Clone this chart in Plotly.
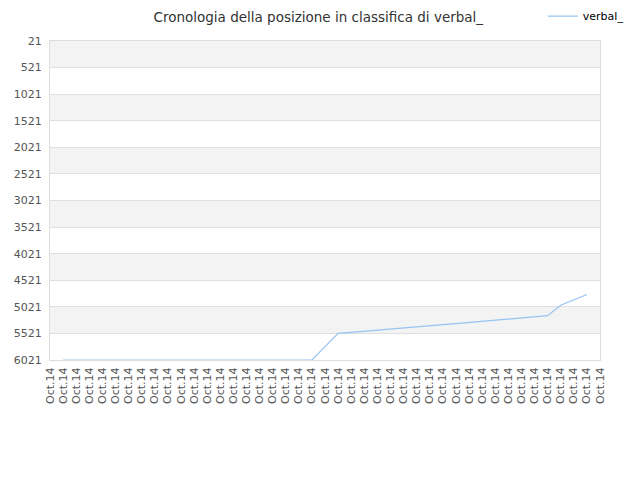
import plotly.graph_objects as go

# date labels along the x axis (all the same day)
labels = ["Oct.14"] * 43

# ranking positions, one per label slot 1..41
rank = [6021, 6021, 6021, 6021, 6021, 6021, 6021, 6021, 6021, 6021,
        6021, 6021, 6021, 6021, 6021, 6021, 6021, 6021, 6021, 6021,
        5770, 5519, 5502, 5483, 5462, 5441, 5420, 5399, 5378, 5357,
        5336, 5315, 5294, 5273, 5252, 5231, 5210, 5188, 4990, 4890,
        4790]
slots = list(range(1, len(rank) + 1))

y_ticks = list(range(21, 6022, 500))

fig = go.Figure()

# alternating bands behind the plot
for i, lo in enumerate(y_ticks[:-1]):
    if i % 2 == 0:
        fig.add_hrect(y0=lo, y1=lo + 500, fillcolor="#f3f3f3", line_width=0, layer="below")

fig.add_trace(go.Scatter(
    x=slots, y=rank, mode="lines", name="verbal_",
    line=dict(color="#95c3f2", width=1.2),
    hoverinfo="y",
))

# page body adds an 8px offset, so the figure is a little smaller
fig.update_layout(
    width=632, height=472,
    margin=dict(l=42, r=40, t=33, b=120, autoexpand=False),
    paper_bgcolor="white", plot_bgcolor="white",
    font=dict(family="DejaVu Sans", size=11, color="#555"),
    title=dict(text="Cronologia della posizione in classifica di verbal_",
               x=0.491, xanchor="center", y=0.981, yanchor="middle",
               font=dict(size=13.5, color="#333")),
    showlegend=True,
    legend=dict(x=0.896, y=1.078, xanchor="left", yanchor="middle",
                font=dict(size=11, color="#000"), bgcolor="rgba(0,0,0,0)"),
    xaxis=dict(
        range=[0, 42], tickmode="array", tickvals=list(range(len(labels))),
        ticktext=labels, tickangle=-90, showgrid=False, zeroline=False,
        showline=True, linecolor="#ddd", mirror=True, ticks="",
        tickfont=dict(size=11, color="#555"), automargin=False,
        ticklabelstandoff=2,
    ),
    yaxis=dict(
        range=[6021, 21], tickmode="array", tickvals=y_ticks,
        showgrid=True, gridcolor="#e0e0e0", zeroline=False,
        showline=True, linecolor="#ddd", mirror=True, ticks="",
        tickfont=dict(size=11, color="#555"), automargin=False,
        ticklabelstandoff=5,
    ),
)

fig.write_html("out.html")
